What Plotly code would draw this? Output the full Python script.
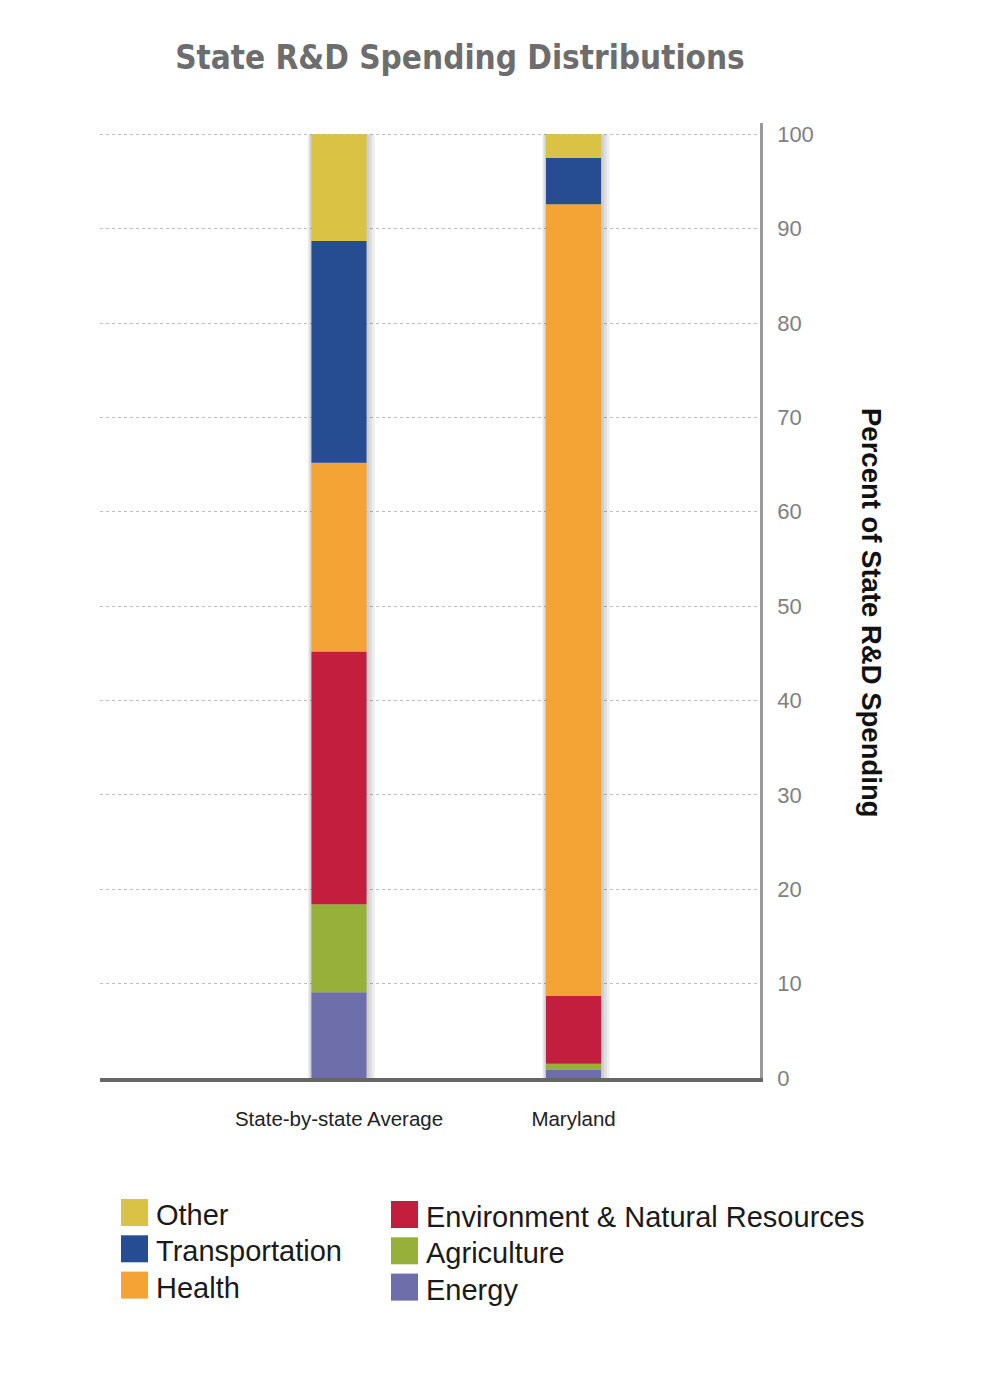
import plotly.graph_objects as go

# ---------------- data ----------------
categories = ["State-by-state Average", "Maryland"]
sectors = ["Energy", "Agriculture", "Environment & Natural Resources",
           "Health", "Transportation", "Other"]
energy = [9.1, 0.9]
agriculture = [9.3, 0.6]
environment = [26.8, 7.2]
health = [20.0, 83.9]
transportation = [23.5, 4.9]
other = [11.3, 2.5]
y_tick_values = [0, 10, 20, 30, 40, 50, 60, 70, 80, 90, 100]
legend_col1 = ["Other", "Transportation", "Health"]
legend_col2 = ["Environment & Natural Resources", "Agriculture", "Energy"]

series = {
    "Energy": energy,
    "Agriculture": agriculture,
    "Environment & Natural Resources": environment,
    "Health": health,
    "Transportation": transportation,
    "Other": other,
}
colors = {
    "Energy": "#6e6eaa",
    "Agriculture": "#97b03a",
    "Environment & Natural Resources": "#c41e3e",
    "Health": "#f4a335",
    "Transportation": "#264d91",
    "Other": "#dac244",
}

# ---------------- layout constants ----------------
OFF = 8  # page body margin
W, H = 994 - OFF, 1383 - OFF
PL, PR, PT, PB = 100 - OFF, 760 - OFF, 123 - OFF, 1078 - OFF  # plot area
BAR_W = 0.235
FONT = "Liberation Sans, Arial, Helvetica, sans-serif"


def px_x(px):
    # px given in screen coordinates
    return (px - OFF - PL) / (PR - PL)


def px_y(py):
    return (PB - (py - OFF)) / (PB - PT)


fig = go.Figure()

# soft drop shadow behind each stack
totals = [sum(series[s][i] for s in sectors) for i in range(len(categories))]
px_unit = 1 / 234.5
for k in (3, 2, 1):
    fig.add_trace(go.Bar(
        x=categories, y=totals, base=[0] * len(categories),
        width=BAR_W + 4 * k * px_unit,
        offset=-BAR_W / 2 - k * px_unit * 1.2,
        marker=dict(color="rgba(0,0,0,0.065)", line=dict(width=0)),
        hoverinfo="skip", showlegend=False,
    ))

# stacked bars
cum = [0.0] * len(categories)
for s in sectors:
    vals = series[s]
    fig.add_trace(go.Bar(
        x=categories, y=vals, base=list(cum), name=s,
        width=BAR_W, offset=-BAR_W / 2,
        marker=dict(color=colors[s], line=dict(width=0)),
        showlegend=False,
    ))
    cum = [c + v for c, v in zip(cum, vals)]

# custom legend (two columns, large square swatches)
shapes = []
annotations = []
col_specs = [(legend_col1, 121, 154, 1199), (legend_col2, 391, 424, 1201)]
for names, sx, tx, top in col_specs:
    for r, name in enumerate(names):
        y0 = top + r * 36.3
        shapes.append(dict(
            type="rect", xref="paper", yref="paper",
            x0=px_x(sx), x1=px_x(sx + 27), y0=px_y(y0 + 27), y1=px_y(y0),
            fillcolor=colors[name], line=dict(width=0), layer="above",
        ))
        annotations.append(dict(
            text=name, xref="paper", yref="paper",
            x=px_x(tx), y=px_y(y0 + 16), xanchor="left", yanchor="middle",
            showarrow=False, font=dict(family=FONT, size=29, color="#1a1a1a"),
        ))

# right-side axis title (reads top to bottom)
annotations.append(dict(
    text="<b>Percent of State R&D Spending</b>", xref="paper", yref="paper",
    x=px_x(872), y=px_y(613), xanchor="center", yanchor="middle",
    textangle=90, showarrow=False,
    font=dict(family=FONT, size=27.5, color="#111111"),
))

fig.update_layout(
    width=W, height=H,
    margin=dict(l=PL, r=W - PR, t=PT, b=H - PB, pad=0),
    paper_bgcolor="white", plot_bgcolor="white",
    barmode="overlay",
    title=dict(
        text="<b>State R&D Spending Distributions</b>",
        x=(460 - OFF) / W, xanchor="center", xref="container",
        y=1 - (57 - OFF) / H, yanchor="middle", yref="container",
        font=dict(family="DejaVu Sans Condensed, Liberation Sans Narrow, Arial Narrow, sans-serif",
                  size=33, color="#6d6d6d"),
    ),
    xaxis=dict(
        type="category", range=[-1.019, 1.795],
        showgrid=False, zeroline=False,
        showline=True, linecolor="#666666", linewidth=4,
        ticks="", ticklabelstandoff=19,
        tickfont=dict(family=FONT, size=20.5, color="#222222"),
    ),
    yaxis=dict(
        side="right", range=[0, 101.2],
        tickvals=y_tick_values, ticktext=[str(v) for v in y_tick_values],
        showgrid=True, gridcolor="#bdbdbd", gridwidth=1, griddash="dot",
        zeroline=False,
        showline=True, linecolor="#999999", linewidth=2.5,
        ticks="", ticklabelstandoff=10,
        tickfont=dict(family=FONT, size=22, color="#808080"),
    ),
    shapes=shapes,
    annotations=annotations,
    showlegend=False,
)

fig.write_html("out.html")
